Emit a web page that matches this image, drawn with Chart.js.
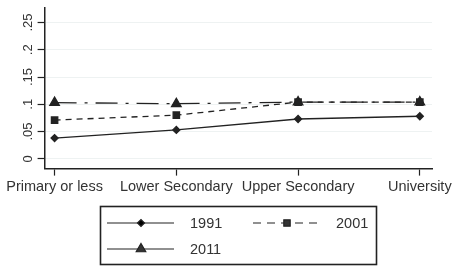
<!DOCTYPE html>
<html>
<head>
<meta charset="utf-8">
<script src="https://cdn.jsdelivr.net/npm/chart.js@4"></script>
<style>
html,body{margin:0;padding:0;background:#fff;}
#wrap{width:456px;height:278px;}
</style>
</head>
<body>
<div id="wrap"><canvas id="c" width="456" height="278"></canvas></div>
<script>
// data
const categories = ['Primary or less','Lower Secondary','Upper Secondary','University'];
const years = ['1991','2001','2011'];
const v1991 = [0.038, 0.053, 0.073, 0.078];
const v2001 = [0.071, 0.080, 0.104, 0.104];
const v2011 = [0.103, 0.101, 0.104, 0.104];
const yTicks = [0, 0.05, 0.1, 0.15, 0.2, 0.25];
const yTickLabels = ['0', '.05', '.1', '.15', '.2', '.25'];

const ink = '#222';
const fontFam = '"Liberation Sans", Arial, sans-serif';

function pts(arr){
  return arr.map((v,i)=>({x:i,y:v}));
}

/* legend drawn as a boxed key like the original */
const boxLegend = {
  id:'boxLegend',
  afterDraw(chart){
    const ctx = chart.ctx;
    const w = 276, h = 58;
    const x0 = 100;
    const y0 = 206;
    ctx.save();
    ctx.strokeStyle = ink;
    ctx.lineWidth = 1.6;
    ctx.strokeRect(x0+0.5, y0+0.5, w, h);
    const slots = [
      {x:x0+7, y:y0+17},
      {x:x0+153, y:y0+17},
      {x:x0+7, y:y0+43}
    ];
    chart.data.datasets.forEach((ds,i)=>{
      const s = slots[i];
      ctx.strokeStyle = ink;
      ctx.lineWidth = 1.2;
      ctx.setLineDash(i===1 ? [8,6] : []);
      ctx.beginPath();
      ctx.moveTo(s.x, s.y);
      ctx.lineTo(s.x+67, s.y);
      ctx.stroke();
      ctx.setLineDash([]);
      Chart.helpers.drawPoint(ctx, {
        pointStyle: ds.pointStyle,
        radius: ds.pointRadius,
        borderWidth: 1
      }, s.x+34, s.y);
      ctx.fillStyle = '#333';
      ctx.font = '14.5px ' + fontFam;
      ctx.textBaseline = 'middle';
      ctx.fillText(ds.label, s.x+83, s.y+1);
    });
    ctx.restore();
  }
};

function mkSet(label, arr, style, r, dash){
  return {
    label: label,
    data: pts(arr),
    borderColor: ink,
    backgroundColor: ink,
    borderWidth: 1.3,
    borderDash: dash,
    pointStyle: style,
    pointRadius: r,
    pointHoverRadius: r,
    pointBorderColor: ink,
    pointBackgroundColor: ink,
    tension: 0
  };
}

new Chart(document.getElementById('c'),{
  type:'line',
  data:{
    datasets:[
      mkSet(years[0], v1991, 'rectRot', 3.5, []),
      mkSet(years[1], v2001, 'rect', 4.5, [6,5]),
      mkSet(years[2], v2011, 'triangle', 5.5, [22,8,3,8])
    ]
  },
  options:{
    responsive:false,
    animation:false,
    devicePixelRatio:1,
    layout:{padding:{left:22, right:24, top:-5, bottom:79}},
    plugins:{
      legend:{display:false},
      tooltip:{enabled:false}
    },
    scales:{
      x:{
        type:'linear',
        min:-0.082,
        max:3.1,
        afterBuildTicks(axis){
          axis.ticks = categories.map((c,i)=>({value:i}));
        },
        ticks:{
          callback:(v)=>categories[v],
          color:'#333',
          font:{family:fontFam, size:14.5},
          maxRotation:0,
          autoSkip:false,
          padding:3
        },
        grid:{drawOnChartArea:false, tickLength:7, tickColor:ink, tickWidth:1.2},
        border:{color:ink, width:1.5}
      },
      y:{
        min:-0.018,
        max:0.277,
        afterBuildTicks(axis){
          axis.ticks = yTicks.map(v=>({value:v}));
        },
        ticks:{
          callback:(v)=>yTickLabels[yTicks.indexOf(v)],
          color:'#333',
          font:{family:fontFam, size:13},
          minRotation:90,
          maxRotation:90,
          crossAlign:'center',
          padding:0
        },
        grid:{color:'#eef2f2', lineWidth:1, tickLength:7, tickColor:ink, tickWidth:1.2},
        border:{color:ink, width:1.5}
      }
    }
  },
  plugins:[boxLegend]
});
</script>
</body>
</html>
